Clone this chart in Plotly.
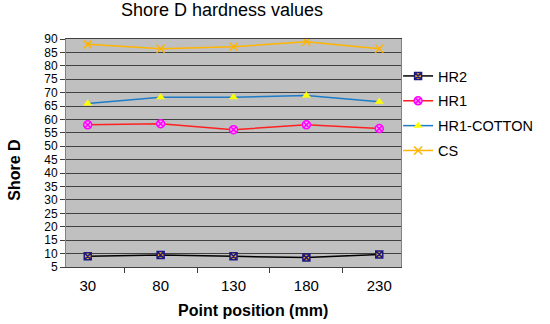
import plotly.graph_objects as go

positions = ["30", "80", "130", "180", "230"]
hr2 = [9.0, 9.5, 9.0, 8.5, 9.7]
hr1 = [58.0, 58.4, 56.2, 58.0, 56.6]
hr1_cotton = [66.0, 68.3, 68.3, 68.9, 66.6]
cs = [88.0, 86.4, 87.1, 89.0, 86.4]

W, H = 550, 324
L, R, T, B = 66, 138, 39, 57

fig = go.Figure()
fig.add_trace(go.Scatter(x=positions, y=hr2, name="HR2", mode="lines+markers",
                         line=dict(color="#000000", width=1.5),
                         marker=dict(symbol="square-x", size=7, color="#F0A020",
                                     line=dict(color="#1a1a80", width=1.5)),
                         legendgroup="a"))
fig.add_trace(go.Scatter(x=positions, y=hr1, name="HR1", mode="lines+markers",
                         line=dict(color="#FF2020", width=1.5),
                         marker=dict(symbol="circle-x", size=8, color="#F0A0F0",
                                     line=dict(color="#FF00FF", width=1.5)),
                         legendgroup="b"))
fig.add_trace(go.Scatter(x=positions, y=hr1_cotton, name="HR1-COTTON", mode="lines+markers",
                         line=dict(color="#1C7CC8", width=1.5),
                         marker=dict(symbol="triangle-up", size=8, color="#FFFF00",
                                     line=dict(color="#FFFF00", width=0)),
                         legendgroup="c"))
fig.add_trace(go.Scatter(x=positions, y=cs, name="CS", mode="lines+markers",
                         line=dict(color="#FFB400", width=1.5),
                         marker=dict(symbol="x-thin", size=8, color="#FFB400",
                                     line=dict(color="#FFB400", width=1.5)),
                         legendgroup="d"))

pw = W - L - R
ph = H - T - B

fig.update_layout(
    width=W, height=H,
    margin=dict(l=L, r=R, t=T, b=B),
    paper_bgcolor="white",
    plot_bgcolor="#C0C0C0",
    font=dict(family="Liberation Sans, Arial, sans-serif", color="black"),
    title=dict(text="Shore D hardness values", x=222 / W, xanchor="center",
               y=1 - 10 / H, yanchor="middle", font=dict(size=18)),
    showlegend=True,
    legend=dict(x=(409 - L) / pw, xanchor="left", y=1 - (60 - T) / ph, yanchor="top",
                font=dict(size=14.5), tracegroupgap=3, bgcolor="rgba(0,0,0,0)"),
    xaxis=dict(type="category", tickson="boundaries", ticks="outside", ticklen=5,
               tickcolor="#404040", showgrid=False, showline=True, linecolor="#404040",
               linewidth=1, mirror=True, tickfont=dict(size=15), ticklabelstandoff=5),
    yaxis=dict(range=[5, 90], dtick=5, tick0=5, ticks="outside", ticklen=5,
               tickcolor="#404040", showgrid=True, gridcolor="#404040", gridwidth=1,
               showline=True, linecolor="#808080", linewidth=1, mirror=True,
               tickfont=dict(size=12), zeroline=False),
    annotations=[
        dict(text="<b>Point position (mm)</b>", xref="paper", yref="paper",
             x=(259 - L) / pw, y=1 - (310 - T) / ph, xanchor="center", yanchor="middle",
             showarrow=False, font=dict(size=16)),
        dict(text="<b>Shore D</b>", xref="paper", yref="paper", textangle=-90,
             x=(12 - L) / pw, y=1 - (170 - T) / ph, xanchor="center", yanchor="middle",
             showarrow=False, font=dict(size=16)),
    ],
)

fig.write_html("out.html", config={"displayModeBar": False},
               post_script="document.body.style.margin='0';document.body.style.overflow='hidden';")
